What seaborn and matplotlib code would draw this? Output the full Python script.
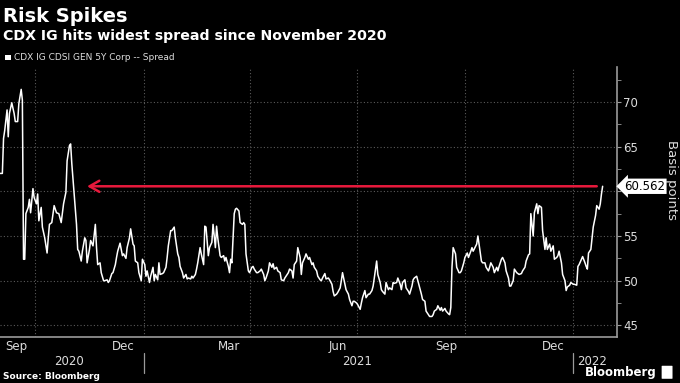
import matplotlib
matplotlib.use("Agg")
import matplotlib.pyplot as plt
import matplotlib.dates as mdates
import matplotlib.ticker as mticker
from matplotlib.patches import FancyBboxPatch, Rectangle
import pandas as pd
import seaborn as sns

title = "Risk Spikes"
subtitle = "CDX IG hits widest spread since November 2020"
series_name = "CDX IG CDSI GEN 5Y Corp -- Spread"
source = "Source: Bloomberg"
y_label = "Basis points"

dates = [
    "2020-09-01", "2020-09-03", "2020-09-04", "2020-09-05", "2020-09-07", "2020-09-08", "2020-09-09", "2020-09-11",
    "2020-09-13", "2020-09-14", "2020-09-16", "2020-09-17", "2020-09-19", "2020-09-20", "2020-09-21", "2020-09-22",
    "2020-09-23", "2020-09-25", "2020-09-26", "2020-09-27", "2020-09-29", "2020-09-30", "2020-10-02", "2020-10-03",
    "2020-10-04", "2020-10-06", "2020-10-07", "2020-10-09", "2020-10-11", "2020-10-12", "2020-10-13", "2020-10-15",
    "2020-10-17", "2020-10-19", "2020-10-21", "2020-10-23", "2020-10-25", "2020-10-27", "2020-10-28", "2020-10-30",
    "2020-10-31", "2020-11-01", "2020-11-03", "2020-11-05", "2020-11-06", "2020-11-07", "2020-11-09", "2020-11-10",
    "2020-11-12", "2020-11-13", "2020-11-14", "2020-11-16", "2020-11-17", "2020-11-19", "2020-11-21", "2020-11-22",
    "2020-11-23", "2020-11-25", "2020-11-26", "2020-11-28", "2020-11-29", "2020-12-01", "2020-12-02", "2020-12-03",
    "2020-12-05", "2020-12-06", "2020-12-08", "2020-12-09", "2020-12-10", "2020-12-12", "2020-12-14", "2020-12-15",
    "2020-12-17", "2020-12-18", "2020-12-20", "2020-12-21", "2020-12-23", "2020-12-24", "2020-12-25", "2020-12-27",
    "2020-12-28", "2020-12-30", "2020-12-31", "2021-01-02", "2021-01-03", "2021-01-04", "2021-01-06", "2021-01-07",
    "2021-01-09", "2021-01-10", "2021-01-11", "2021-01-13", "2021-01-14", "2021-01-15", "2021-01-17", "2021-01-18",
    "2021-01-20", "2021-01-21", "2021-01-22", "2021-01-24", "2021-01-25", "2021-01-27", "2021-01-28", "2021-01-30",
    "2021-01-31", "2021-02-01", "2021-02-03", "2021-02-04", "2021-02-06", "2021-02-07", "2021-02-08", "2021-02-10",
    "2021-02-11", "2021-02-12", "2021-02-14", "2021-02-15", "2021-02-16", "2021-02-18", "2021-02-19", "2021-02-21",
    "2021-02-22", "2021-02-23", "2021-02-25", "2021-02-26", "2021-02-28", "2021-03-01", "2021-03-03", "2021-03-04",
    "2021-03-05", "2021-03-07", "2021-03-08", "2021-03-10", "2021-03-11", "2021-03-12", "2021-03-14", "2021-03-15",
    "2021-03-16", "2021-03-17", "2021-03-19", "2021-03-20", "2021-03-21", "2021-03-23", "2021-03-24", "2021-03-26",
    "2021-03-27", "2021-03-28", "2021-03-29", "2021-03-31", "2021-04-01", "2021-04-03", "2021-04-04", "2021-04-05",
    "2021-04-07", "2021-04-08", "2021-04-10", "2021-04-11", "2021-04-13", "2021-04-14", "2021-04-15", "2021-04-17",
    "2021-04-18", "2021-04-20", "2021-04-21", "2021-04-22", "2021-04-24", "2021-04-25", "2021-04-27", "2021-04-28",
    "2021-04-30", "2021-05-01", "2021-05-02", "2021-05-04", "2021-05-05", "2021-05-07", "2021-05-08", "2021-05-09",
    "2021-05-11", "2021-05-12", "2021-05-14", "2021-05-15", "2021-05-16", "2021-05-18", "2021-05-19", "2021-05-21",
    "2021-05-22", "2021-05-24", "2021-05-25", "2021-05-26", "2021-05-28", "2021-05-29", "2021-05-31", "2021-06-01",
    "2021-06-02", "2021-06-04", "2021-06-05", "2021-06-07", "2021-06-08", "2021-06-10", "2021-06-11", "2021-06-12",
    "2021-06-14", "2021-06-15", "2021-06-17", "2021-06-18", "2021-06-19", "2021-06-21", "2021-06-22", "2021-06-24",
    "2021-06-25", "2021-06-27", "2021-06-28", "2021-06-29", "2021-07-01", "2021-07-02", "2021-07-04", "2021-07-05",
    "2021-07-06", "2021-07-08", "2021-07-09", "2021-07-11", "2021-07-12", "2021-07-14", "2021-07-15", "2021-07-16",
    "2021-07-18", "2021-07-19", "2021-07-21", "2021-07-22", "2021-07-23", "2021-07-25", "2021-07-26", "2021-07-28",
    "2021-07-29", "2021-07-31", "2021-08-01", "2021-08-02", "2021-08-04", "2021-08-05", "2021-08-07", "2021-08-08",
    "2021-08-09", "2021-08-11", "2021-08-12", "2021-08-14", "2021-08-15", "2021-08-17", "2021-08-18", "2021-08-19",
    "2021-08-21", "2021-08-22", "2021-08-24", "2021-08-25", "2021-08-26", "2021-08-28", "2021-08-29", "2021-08-31",
    "2021-09-01", "2021-09-03", "2021-09-04", "2021-09-05", "2021-09-07", "2021-09-08", "2021-09-10", "2021-09-11",
    "2021-09-12", "2021-09-14", "2021-09-15", "2021-09-17", "2021-09-18", "2021-09-19", "2021-09-20", "2021-09-21",
    "2021-09-23", "2021-09-24", "2021-09-26", "2021-09-27", "2021-09-28", "2021-09-30", "2021-10-01", "2021-10-03",
    "2021-10-04", "2021-10-06", "2021-10-07", "2021-10-08", "2021-10-11", "2021-10-12", "2021-10-13", "2021-10-15",
    "2021-10-16", "2021-10-18", "2021-10-19", "2021-10-21", "2021-10-22", "2021-10-23", "2021-10-25", "2021-10-26",
    "2021-10-28", "2021-10-29", "2021-10-30", "2021-11-01", "2021-11-02", "2021-11-04", "2021-11-05", "2021-11-07",
    "2021-11-08", "2021-11-09", "2021-11-11", "2021-11-12", "2021-11-14", "2021-11-15", "2021-11-16", "2021-11-18",
    "2021-11-19", "2021-11-21", "2021-11-22", "2021-11-24", "2021-11-25", "2021-11-26", "2021-11-28", "2021-11-29",
    "2021-12-01", "2021-12-02", "2021-12-03", "2021-12-05", "2021-12-06", "2021-12-08", "2021-12-09", "2021-12-10",
    "2021-12-12", "2021-12-13", "2021-12-15", "2021-12-16", "2021-12-18", "2021-12-19", "2021-12-20", "2021-12-22",
    "2021-12-23", "2021-12-25", "2021-12-26", "2021-12-27", "2021-12-29", "2021-12-30", "2022-01-01", "2022-01-02",
    "2022-01-04", "2022-01-05", "2022-01-06", "2022-01-08", "2022-01-09", "2022-01-11", "2022-01-12", "2022-01-13",
    "2022-01-14", "2022-01-16", "2022-01-17", "2022-01-18", "2022-01-20", "2022-01-21", "2022-01-23", "2022-01-24",
    "2022-01-25", "2022-01-26",
]

spread = [
    62.0, 62.0, 65.9, 66.8, 69.1, 66.1, 68.7, 69.9,
    68.7, 67.8, 67.8, 69.8, 71.4, 70.2, 52.4, 52.4,
    57.5, 58.2, 59.1, 57.6, 60.3, 59.3, 58.6, 59.7,
    56.7, 58.2, 56.0, 54.8, 53.1, 54.8, 56.3, 56.5,
    58.4, 57.6, 57.5, 56.5, 58.6, 59.9, 63.4, 65.1,
    65.3, 63.1, 59.7, 56.3, 53.5, 53.3, 52.2, 53.3,
    54.8, 54.5, 52.0, 53.5, 54.5, 53.9, 56.3, 53.7,
    51.8, 52.0, 50.9, 50.0, 50.0, 50.1, 49.8, 50.0,
    50.8, 50.9, 51.8, 52.6, 53.3, 54.2, 52.8, 53.0,
    52.5, 53.7, 54.8, 55.8, 54.1, 53.9, 52.2, 52.0,
    50.9, 50.0, 52.4, 51.8, 50.5, 51.1, 49.8, 50.5,
    51.5, 50.0, 50.7, 50.1, 52.0, 50.7, 50.8, 50.9,
    51.5, 52.6, 53.9, 55.6, 55.6, 56.0, 54.8, 53.0,
    52.6, 51.6, 50.9, 50.3, 50.7, 50.2, 50.3, 50.2,
    50.5, 50.3, 50.7, 51.3, 52.0, 53.7, 53.0, 51.8,
    56.1, 56.0, 52.8, 53.7, 54.3, 56.3, 53.7, 56.1,
    54.8, 52.8, 52.6, 52.8, 52.2, 52.6, 51.6, 50.9,
    52.4, 52.0, 57.5, 58.0, 58.1, 57.8, 56.5, 56.3,
    56.5, 56.3, 53.0, 51.1, 50.9, 51.5, 51.6, 51.3,
    50.9, 50.9, 51.1, 51.3, 50.7, 50.0, 50.3, 51.1,
    52.0, 51.5, 51.9, 51.3, 51.5, 51.1, 50.9, 50.1,
    50.0, 50.3, 50.5, 50.9, 51.3, 51.1, 50.3, 51.8,
    52.2, 53.7, 52.6, 50.7, 52.0, 52.6, 53.0, 52.4,
    52.6, 51.8, 52.0, 51.5, 51.1, 50.5, 50.1, 50.0,
    50.3, 50.8, 50.2, 50.3, 50.1, 49.6, 48.8, 48.3,
    48.5, 48.7, 49.2, 50.0, 50.9, 49.6, 49.0, 48.5,
    47.9, 47.2, 47.7, 47.7, 47.5, 47.3, 46.8, 47.5,
    48.1, 48.9, 48.1, 48.5, 48.5, 48.9, 49.4, 50.3,
    52.2, 50.7, 49.8, 49.0, 48.8, 48.5, 49.8, 49.0,
    49.2, 49.0, 49.8, 49.7, 49.8, 50.3, 49.6, 49.0,
    49.8, 50.1, 49.2, 48.8, 48.5, 49.4, 50.1, 50.3,
    50.5, 50.0, 49.0, 48.5, 47.9, 47.7, 46.6, 46.2,
    46.0, 46.0, 46.2, 46.6, 46.8, 47.2, 46.7, 47.0,
    46.6, 46.9, 46.6, 46.3, 46.2, 47.0, 51.5, 53.7,
    53.0, 51.5, 50.9, 50.9, 51.1, 52.0, 52.6, 53.1,
    52.6, 53.3, 53.7, 53.3, 54.1, 55.0, 54.1, 52.2,
    52.0, 52.0, 51.5, 51.1, 51.5, 52.0, 51.5, 50.9,
    51.5, 51.1, 51.6, 52.4, 52.6, 52.0, 51.1, 50.3,
    49.4, 49.4, 50.0, 51.3, 50.9, 50.8, 50.7, 50.8,
    51.1, 51.5, 52.2, 52.9, 53.0, 57.5, 55.0, 57.6,
    58.6, 57.5, 58.4, 58.2, 55.6, 53.5, 54.8, 53.5,
    54.1, 53.3, 53.9, 52.4, 52.6, 52.8, 53.3, 52.0,
    50.7, 50.0, 48.9, 49.3, 49.5, 49.8, 49.6, 49.6,
    49.5, 51.6, 51.8, 52.4, 52.7, 52.0, 51.6, 51.3,
    53.1, 53.5, 54.8, 56.0, 57.3, 58.4, 58.0, 58.6,
    59.7, 60.562,
]

month_labels = ["Sep", "Dec", "Mar", "Jun", "Sep", "Dec"]
month_label_dates = ["2020-09-15", "2020-12-15", "2021-03-15", "2021-06-15", "2021-09-15", "2021-12-15"]
year_labels = ["2020", "2021", "2022"]
year_label_dates = ["2020-10-30", "2021-07-01", "2022-01-17"]
year_breaks = ["2021-01-01", "2022-01-01"]
y_ticks = [45, 50, 55, 60, 65, 70]
y_tick_labels = ["45", "50", "55", "", "65", "70"]  # 60 sits under the value tag
arrow_from = "2022-01-21"
arrow_to = "2020-11-14"

df = pd.DataFrame({"date": pd.to_datetime(dates), "spread": spread})
last = df["spread"].iloc[-1]

sns.set_style("dark")
plt.rcParams["font.family"] = ["DejaVu Sans"]

fig = plt.figure(figsize=(6.8, 3.83), dpi=100, facecolor="black")
ax = fig.add_axes([0.0, 0.12, 0.907, 0.705], facecolor="black")

sns.lineplot(data=df, x="date", y="spread", color="white", linewidth=1.1, ax=ax)

ax.set_xlim(pd.Timestamp("2020-09-01"), pd.Timestamp("2022-02-07"))
ax.set_ylim(43.7, 73.9)
ax.set_xlabel("")
ax.set_ylabel("")

# grid: quarters on x, 5bp steps on y
grid_kw = dict(color="#5a5a5a", linestyle=(0, (1, 2)), linewidth=0.8)
ax.xaxis.set_major_locator(mdates.MonthLocator(bymonth=[1, 4, 7, 10]))
ax.xaxis.set_minor_locator(mdates.MonthLocator())
ax.xaxis.set_major_formatter(mticker.NullFormatter())
ax.yaxis.set_major_locator(mticker.FixedLocator(y_ticks))
ax.yaxis.set_major_formatter(mticker.FixedFormatter(y_tick_labels))
ax.yaxis.set_minor_locator(mticker.MultipleLocator(2.5))
ax.grid(True, which="major", **grid_kw)
ax.yaxis.tick_right()
ax.tick_params(axis="x", which="both", direction="in", length=3, color="#9a9a9a")
ax.tick_params(axis="y", which="both", direction="out", length=3, color="#9a9a9a",
               labelcolor="#dddddd", labelsize=8.5, pad=1.5)

for side in ["left", "top"]:
    ax.spines[side].set_visible(False)
for side in ["right", "bottom"]:
    ax.spines[side].set_visible(True)
    ax.spines[side].set_color("#9a9a9a")
    ax.spines[side].set_linewidth(1.2)

xt = ax.get_xaxis_transform()
for lab, d in zip(month_labels, month_label_dates):
    ax.text(pd.Timestamp(d), -0.035, lab, transform=xt, ha="center", va="center",
            color="#dddddd", fontsize=8.5)
for lab, d in zip(year_labels, year_label_dates):
    ax.text(pd.Timestamp(d), -0.09, lab, transform=xt, ha="center", va="center",
            color="#dddddd", fontsize=8.5)
for d in year_breaks:
    ax.plot([pd.Timestamp(d)] * 2, [-0.06, -0.135], transform=xt, color="#9a9a9a",
            linewidth=0.9, clip_on=False)

# red arrow back to the november 2020 level
ax.annotate("", xy=(pd.Timestamp(arrow_to), last), xytext=(pd.Timestamp(arrow_from), last),
            arrowprops=dict(arrowstyle="->,head_length=0.7,head_width=0.4",
                            color="#e8193c", linewidth=1.8, shrinkA=0, shrinkB=0))

ax.annotate(f"{last:.3f}", xy=(1, last), xycoords=("axes fraction", "data"),
            xytext=(5.5, 0), textcoords="offset points", ha="left", va="center",
            fontsize=8.5, color="black",
            bbox=dict(boxstyle="larrow,pad=0.1", fc="white", ec="none"))

fig.text(0.988, 0.53, y_label, rotation=270, ha="center", va="center",
         color="#dddddd", fontsize=9.5)

# titles and legend
fig.text(0.004, 0.958, title, ha="left", va="center", color="white",
         fontsize=14, fontweight="bold")
fig.text(0.004, 0.905, subtitle, ha="left", va="center", color="white",
         fontsize=10.2, fontweight="bold")
fig.patches.append(Rectangle((0.008, 0.843), 0.008, 0.014, transform=fig.transFigure,
                             facecolor="white", edgecolor="none"))
fig.text(0.02, 0.851, series_name, ha="left", va="center", color="#dddddd", fontsize=6.5)

fig.text(0.004, 0.018, source, ha="left", va="center", color="white",
         fontsize=6.5, fontweight="bold")
fig.text(0.966, 0.027, "Bloomberg", ha="right", va="center", color="white",
         fontsize=8.5, fontweight="bold")
fig.patches.append(FancyBboxPatch((0.974, 0.012), 0.014, 0.032, transform=fig.transFigure,
                                  boxstyle="round,pad=0.001", facecolor="white", edgecolor="none"))

fig.savefig("out.png", dpi=100, facecolor="black")
